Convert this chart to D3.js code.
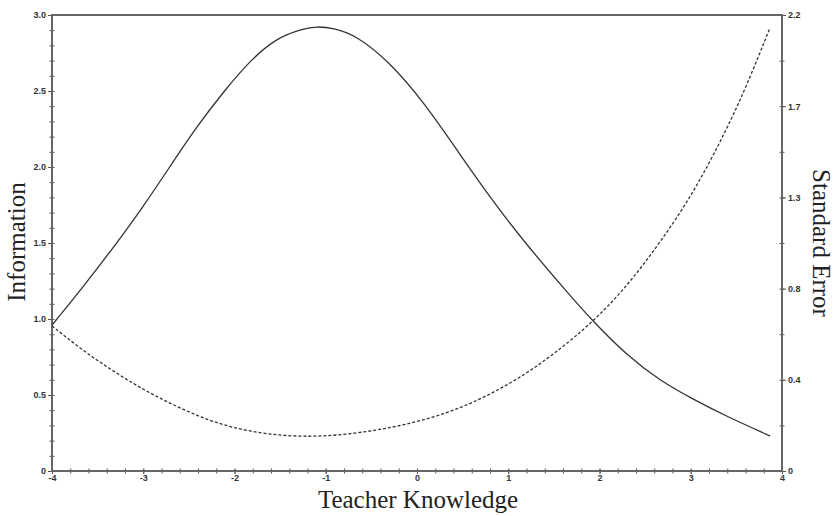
<!DOCTYPE html>
<html>
<head>
<meta charset="utf-8">
<script src="https://cdn.jsdelivr.net/npm/d3@7"></script>
<style>
  body { margin: 0; background: #fff; }
  .tick text { font-family: "Liberation Sans", Arial, sans-serif; font-weight: bold; font-size: 9px; fill: #333; }
  .title { font-family: "Liberation Serif", "Times New Roman", serif; font-size: 25px; fill: #222; }
</style>
</head>
<body>
<script>
//Data
var theta = [-4.00, -3.66, -3.29, -3.00, -2.71, -2.41, -2.10, -1.83, -1.54, -1.25, -1.10, -0.92, -0.66,
  -0.30, 0.07, 0.44, 0.80, 1.17, 1.64, 1.92, 2.30, 2.66, 3.03, 3.39, 3.87];
var information = [0.96, 1.21, 1.50, 1.74, 2.00, 2.27, 2.51, 2.70, 2.85, 2.91, 2.925, 2.915, 2.865,
  2.69, 2.43, 2.11, 1.80, 1.51, 1.18, 0.99, 0.76, 0.595, 0.47, 0.36, 0.23];

var seTheta = [-4.00, -3.66, -3.29, -2.93, -2.56, -2.20, -1.83, -1.47, -1.10, -0.70, -0.33, 0.03,
  0.40, 0.76, 1.13, 1.49, 1.92, 2.30, 2.66, 3.03, 3.39, 3.61, 3.87];
var standardError = [0.70, 0.58, 0.47, 0.375, 0.295, 0.23, 0.19, 0.17, 0.165, 0.18, 0.205, 0.24,
  0.29, 0.36, 0.45, 0.56, 0.715, 0.89, 1.10, 1.34, 1.645, 1.855, 2.14];

var xTicks = [-4, -3, -2, -1, 0, 1, 2, 3, 4];
var leftTicks = [0, 0.5, 1.0, 1.5, 2.0, 2.5, 3.0];
var leftLabels = ["0", "0.5", "1.0", "1.5", "2.0", "2.5", "3.0"];
var rightTicks = [0, 0.44, 0.88, 1.32, 1.76, 2.2];
var rightLabels = ["0", "0.4", "0.8", "1.3", "1.7", "2.2"];

var width = 834, height = 516;
var svg = d3.select('body').append('svg')
  .attr('width', width)
  .attr('height', height);

var x = d3.scaleLinear().domain([-4, 4]).range([52, 782]);
var yL = d3.scaleLinear().domain([0, 3]).range([471, 15]);
var yR = d3.scaleLinear().domain([0, 2.2]).range([471, 15]);

var minorX = d3.range(-4, 4.001, 0.2);
var minorL = d3.range(0, 3.001, 0.1);
var minorR = d3.range(0, 2.2001, 0.22);

// minor ticks (cross the axis)
svg.append('g').attr('transform', 'translate(0,' + yL(0) + ')')
  .call(d3.axisBottom(x).tickValues(minorX).tickFormat('').tickSize(2.5))
  .call(function(g){ g.select('.domain').remove(); g.selectAll('line').attr('y1', -2.5).attr('stroke', '#555'); });
svg.append('g').attr('transform', 'translate(' + x(-4) + ',0)')
  .call(d3.axisLeft(yL).tickValues(minorL).tickFormat('').tickSize(2.5))
  .call(function(g){ g.select('.domain').remove(); g.selectAll('line').attr('x1', 2.5).attr('stroke', '#555'); });
svg.append('g').attr('transform', 'translate(' + x(4) + ',0)')
  .call(d3.axisRight(yR).tickValues(minorR).tickFormat('').tickSize(2.5))
  .call(function(g){ g.select('.domain').remove(); g.selectAll('line').attr('x1', -2.5).attr('stroke', '#555'); });

// major ticks + labels
svg.append('g').attr('transform', 'translate(0,' + yL(0) + ')')
  .call(d3.axisBottom(x).tickValues(xTicks).tickFormat(function(d){ return d < 0 ? '-' + Math.abs(d) : d; }).tickSize(3).tickPadding(1))
  .call(function(g){ g.select('.domain').remove(); g.selectAll('line').attr('y1', -2).attr('stroke', '#555'); });
svg.append('g').attr('transform', 'translate(' + x(-4) + ',0)')
  .call(d3.axisLeft(yL).tickValues(leftTicks).tickFormat(function(d, i){ return leftLabels[i]; }).tickSize(4).tickPadding(2))
  .call(function(g){ g.select('.domain').remove(); g.selectAll('line').attr('stroke', '#555'); });
svg.append('g').attr('transform', 'translate(' + x(4) + ',0)')
  .call(d3.axisRight(yR).tickValues(rightTicks).tickFormat(function(d, i){ return rightLabels[i]; }).tickSize(4).tickPadding(2))
  .call(function(g){ g.select('.domain').remove(); g.selectAll('line').attr('stroke', '#555'); });

// frame
svg.append('rect')
  .attr('x', x(-4)).attr('y', yL(3))
  .attr('width', x(4) - x(-4)).attr('height', yL(0) - yL(3))
  .attr('fill', 'none').attr('stroke', '#666').attr('stroke-width', 2);

var infoLine = d3.line()
  .x(function(d, i){ return x(theta[i]); })
  .y(function(d){ return yL(d); })
  .curve(d3.curveBasis);
var seLine = d3.line()
  .x(function(d, i){ return x(seTheta[i]); })
  .y(function(d){ return yR(d); })
  .curve(d3.curveBasis);

svg.append('path').datum(information)
  .attr('d', infoLine)
  .attr('fill', 'none').attr('stroke', '#333').attr('stroke-width', 1.3);
svg.append('path').datum(standardError)
  .attr('d', seLine)
  .attr('fill', 'none').attr('stroke', '#333').attr('stroke-width', 1.3)
  .attr('stroke-dasharray', '3,2');

// titles
svg.append('text').attr('class', 'title')
  .attr('x', 418).attr('y', 508).attr('text-anchor', 'middle')
  .text('Teacher Knowledge');
svg.append('text').attr('class', 'title')
  .attr('transform', 'translate(25,242) rotate(-90)').attr('text-anchor', 'middle')
  .text('Information');
svg.append('text').attr('class', 'title')
  .attr('transform', 'translate(813,243) rotate(90)').attr('text-anchor', 'middle')
  .text('Standard Error');
</script>
</body>
</html>
